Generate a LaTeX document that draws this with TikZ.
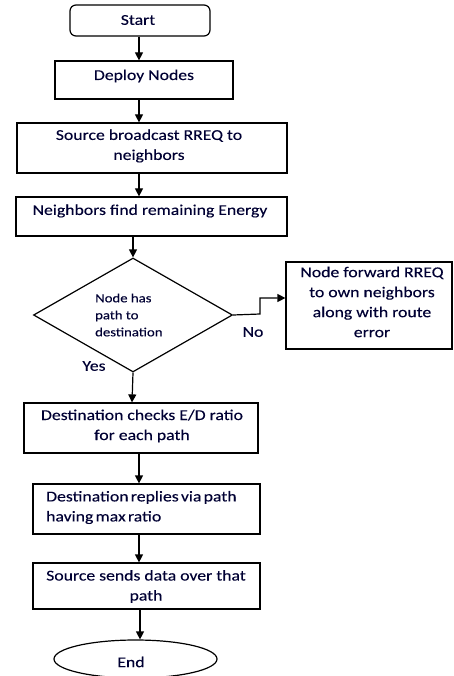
\documentclass[tikz,border=0pt]{standalone}
\usepackage{fontspec}
\setmainfont[FakeStretch=1.18,FakeBold=0.15]{Carlito}
\usetikzlibrary{arrows.meta,shapes.geometric}
\newcommand{\tightspace}{\spaceskip=0.15em\relax}
\begin{document}
\begin{tikzpicture}[x=1pt,y=-1pt,
  box/.style={draw, line width=1.2pt, inner sep=0pt, rectangle},
  txt/.style={inner sep=0pt, align=center, font=\fontsize{15}{20}\selectfont, text=black!80!blue},
  dtxt/.style={inner sep=0pt, align=left, font=\fontsize{12.5}{17}\selectfont, text=black!80!blue},
  arr/.style={-{Triangle[width=8pt,length=8pt]}, line width=1.2pt}]
\useasboundingbox (0,0) rectangle (453,676);
\fill[white] (0,0) rectangle (453,676);
% shapes
\node[box, rounded corners=6pt, minimum width=140pt, minimum height=31pt] (start) at (140,20.5) {};
\node[box, minimum width=178pt, minimum height=38pt] (deploy) at (144,80) {};
\node[box, minimum width=270pt, minimum height=50pt] (source) at (152,148) {};
\node[box, minimum width=271pt, minimum height=39pt] (neigh) at (151.5,216.5) {};
\node[draw, line width=1.2pt, diamond, inner sep=0pt, minimum width=199pt, minimum height=114pt] (dec) at (133,315) {};
\node[box, minimum width=166pt, minimum height=87pt] (fwd) at (369,305.5) {};
\node[box, minimum width=234pt, minimum height=50pt] (dest) at (141,428) {};
\node[box, minimum width=227pt, minimum height=50pt] (reply) at (146.5,509) {};
\node[box, minimum width=227pt, minimum height=46pt] (send) at (146.5,586) {};
\node[draw, line width=1.2pt, ellipse, inner sep=0pt, minimum width=163pt, minimum height=38pt] (end) at (135.5,659) {};
% texts
\node[txt] (tstart) at (138,20) {Start};
\node[txt] (tdeploy) at (144,76) {Deploy Nodes};
\node[txt] (tsource) at (149,146) {Source broadcast RREQ to\\neighbors};
\node[txt] (tneigh) at (150,211) {Neighbors find remaining Energy};
\node[dtxt, anchor=west] (tdec) at (95,315) {Node has\\path to\\destination};
\node[txt] (tfwd) at (372,302) {Node forward RREQ\\to own neighbors\\along with route\\error};
\node[txt] (tdest) at (142,426) {Destination checks E/D ratio\\for each path};
\node[txt, align=left, anchor=west] (treply) at (46,507.5) {\tightspace Destination replies via path\\\tightspace having max ratio};
\node[txt] (tsend) at (146,586.5) {Source sends data over that\\path};
\node[txt] (tend) at (131,662) {End};
\node[txt] (tno) at (253,332) {No};
\node[txt] (tyes) at (94,366) {Yes};
% connectors
\draw[arr] (start.south -| 139,0) -- (deploy.north -| 139,0);
\draw[arr] (deploy.south -| 139,0) -- (source.north -| 139,0);
\draw[arr] (source.south -| 139,0) -- (neigh.north -| 139,0);
\draw[arr] (neigh.south -| dec.north) -- (dec.north);
\coordinate (k1) at (260,314);
\coordinate (k2) at (260,298);
\draw[arr] (dec.east) -- (k1) -- (k2) -- (k2 -| fwd.west);
\draw[arr] (dec.south) -- (dest.north -| 132,0);
\draw[arr] (dest.south -| 139,0) -- (reply.north -| 139,0);
\draw[arr] (reply.south -| 139,0) -- (send.north -| 139,0);
\draw[arr] (send.south -| 140,0) -- (end.north -| 140,0);
\end{tikzpicture}
\end{document}
